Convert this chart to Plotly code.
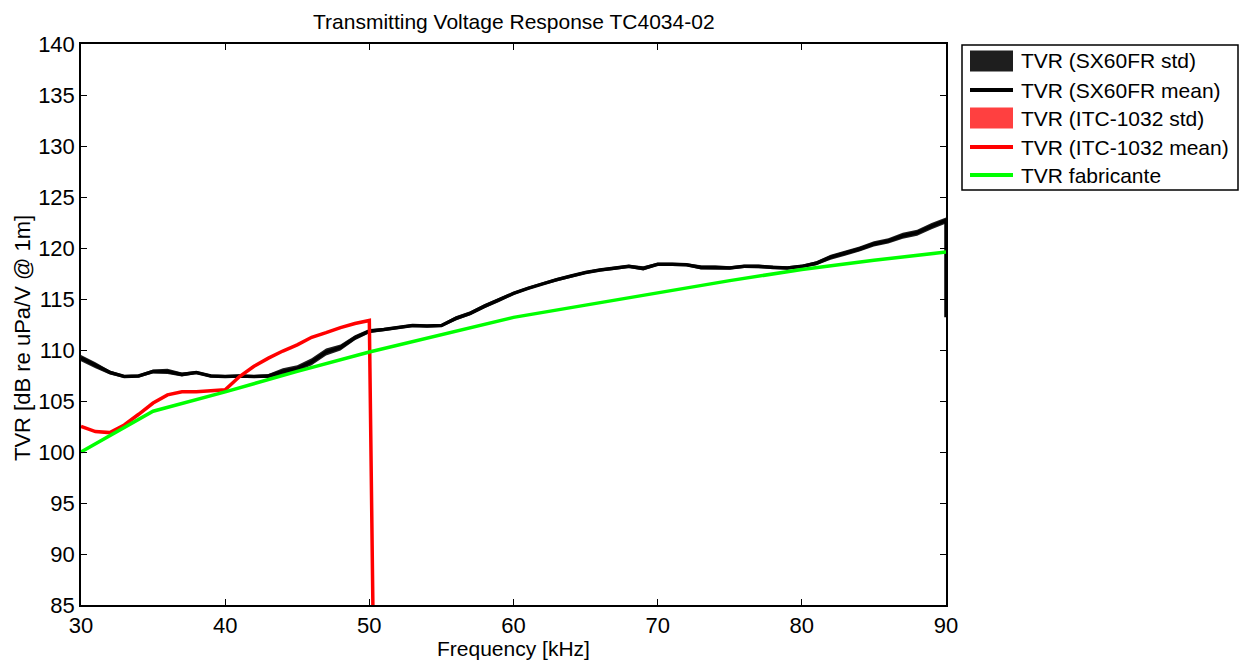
import plotly.graph_objects as go

# Frequency grids [kHz]
freq_sx = list(range(30, 91)) + [90]
freq_itc = list(range(30, 52))
freq_fab = [30, 35, 40, 45, 50, 55, 60, 65, 70, 75, 80, 85, 90]

# SX60FR measurement: mean TVR [dB re uPa/V @ 1m] and standard deviation
tvr_sx_mean = [
    109.2, 108.5, 107.8, 107.4, 107.45, 107.9, 107.9, 107.6, 107.8, 107.45,
    107.4, 107.45, 107.4, 107.45, 107.9, 108.2, 108.85, 109.8, 110.25, 111.2,
    111.85, 112.0, 112.2, 112.4, 112.35, 112.4, 113.1, 113.6, 114.3, 114.9,
    115.55, 116.05, 116.5, 116.9, 117.25, 117.6, 117.85, 118.0, 118.2, 118.0,
    118.4, 118.4, 118.35, 118.1, 118.1, 118.05, 118.2, 118.2, 118.1, 118.05,
    118.2, 118.5, 119.1, 119.5, 119.9, 120.4, 120.7, 121.2, 121.5, 122.15,
    122.7, 113.2,
]
tvr_sx_std = [
    0.3, 0.3, 0.2, 0.15, 0.15, 0.2, 0.25, 0.2, 0.15, 0.15,
    0.15, 0.15, 0.15, 0.2, 0.3, 0.3, 0.35, 0.35, 0.3, 0.25,
    0.2, 0.15, 0.15, 0.15, 0.15, 0.15, 0.2, 0.2, 0.2, 0.2,
    0.15, 0.15, 0.15, 0.15, 0.15, 0.15, 0.15, 0.15, 0.15, 0.2,
    0.15, 0.15, 0.15, 0.2, 0.2, 0.15, 0.15, 0.15, 0.15, 0.15,
    0.15, 0.2, 0.25, 0.25, 0.25, 0.25, 0.25, 0.3, 0.3, 0.3,
    0.3, 0.3,
]

# ITC-1032 reference: mean TVR and standard deviation
tvr_itc_mean = [
    102.5, 102.0, 101.9, 102.65, 103.7, 104.8, 105.6, 105.9, 105.9, 106.0,
    106.1, 107.4, 108.4, 109.2, 109.9, 110.5, 111.25, 111.7, 112.2, 112.6,
    112.9, 0.0,
]
tvr_itc_std = [0.05] * 22

# Manufacturer curve
tvr_fab = [100.0, 104.0, 105.9, 107.9, 109.8, 111.5, 113.2, 114.4, 115.6,
           116.8, 117.9, 118.8, 119.6]

# Legend entries: label, colour, kind ("patch" for std bands, "line" for means)
legend_labels = ["TVR (SX60FR std)", "TVR (SX60FR mean)", "TVR (ITC-1032 std)",
                 "TVR (ITC-1032 mean)", "TVR fabricante"]
legend_colors = ["#1e1e1e", "#000000", "#ff4040", "#ff0000", "#00ff00"]
legend_kinds = ["patch", "line", "patch", "line", "line"]

FONT = "Arial, Liberation Sans, sans-serif"
FS = 21
LW = 3.5

# Plot area in pixels
W, H = 1240, 660
L, R, T, B = 81, 946, 44, 605


def px_x(p):
    return (p - L) / (R - L)


def px_y(p):
    return (B - p) / (B - T)


def band(x, mean, std):
    upper = [m + s for m, s in zip(mean, std)]
    lower = [m - s for m, s in zip(mean, std)]
    return list(x) + list(x)[::-1], upper + lower[::-1]


fig = go.Figure()

bx, by = band(freq_sx, tvr_sx_mean, tvr_sx_std)
fig.add_trace(go.Scatter(
    x=bx, y=by, fill="toself", mode="lines", line=dict(width=0),
    fillcolor=legend_colors[0], name=legend_labels[0], hoverinfo="skip"))
fig.add_trace(go.Scatter(
    x=freq_sx, y=tvr_sx_mean, mode="lines",
    line=dict(color=legend_colors[1], width=LW), name=legend_labels[1]))

rx, ry = band(freq_itc, tvr_itc_mean, tvr_itc_std)
fig.add_trace(go.Scatter(
    x=rx, y=ry, fill="toself", mode="lines", line=dict(width=0),
    fillcolor=legend_colors[2], name=legend_labels[2], hoverinfo="skip"))
fig.add_trace(go.Scatter(
    x=freq_itc, y=tvr_itc_mean, mode="lines",
    line=dict(color=legend_colors[3], width=LW), name=legend_labels[3]))

fig.add_trace(go.Scatter(
    x=freq_fab, y=tvr_fab, mode="lines",
    line=dict(color=legend_colors[4], width=LW), name=legend_labels[4]))

axis_common = dict(
    showgrid=False, zeroline=False, showline=True, linecolor="black",
    linewidth=1.5, mirror="ticks", ticks="inside", ticklen=6,
    tickcolor="black", tickwidth=1,
    tickfont=dict(family=FONT, size=FS + 1, color="black"),
)

# Legend drawn as a boxed key to the right of the axes
shapes = [dict(type="rect", xref="paper", yref="paper",
               x0=px_x(962), x1=px_x(1238), y0=px_y(45), y1=px_y(190),
               line=dict(color="black", width=1.5), fillcolor="white",
               layer="above")]
annotations = []
row_centers = [61, 90, 118, 147, 175]
for label, color, kind, cy in zip(legend_labels, legend_colors, legend_kinds,
                                  row_centers):
    if kind == "patch":
        shapes.append(dict(type="rect", xref="paper", yref="paper",
                           x0=px_x(970), x1=px_x(1013),
                           y0=px_y(cy + 10.5), y1=px_y(cy - 10.5),
                           line=dict(width=0), fillcolor=color, layer="above"))
    else:
        shapes.append(dict(type="line", xref="paper", yref="paper",
                           x0=px_x(970), x1=px_x(1013),
                           y0=px_y(cy), y1=px_y(cy),
                           line=dict(color=color, width=4), layer="above"))
    annotations.append(dict(text=label, xref="paper", yref="paper",
                            x=px_x(1019), y=px_y(cy), xanchor="left",
                            yanchor="middle", showarrow=False,
                            font=dict(family=FONT, size=FS, color="black")))

# Title and axis labels
annotations += [
    dict(text="Transmitting Voltage Response TC4034-02", xref="paper",
         yref="paper", x=0.5, y=px_y(22), xanchor="center", yanchor="middle",
         showarrow=False, font=dict(family=FONT, size=21, color="black")),
    dict(text="Frequency [kHz]", xref="paper", yref="paper", x=0.5,
         y=px_y(648), xanchor="center", yanchor="middle", showarrow=False,
         font=dict(family=FONT, size=FS, color="black")),
    dict(text="TVR [dB re uPa/V @ 1m]", xref="paper", yref="paper",
         x=px_x(22), y=px_y(338), xanchor="center", yanchor="middle",
         textangle=-90, showarrow=False,
         font=dict(family=FONT, size=22, color="black")),
]

fig.update_layout(
    width=W, height=H,
    margin=dict(l=L, r=W - R, t=T, b=H - B),
    paper_bgcolor="white", plot_bgcolor="white",
    xaxis=dict(range=[30, 90], tickvals=[30, 40, 50, 60, 70, 80, 90],
               **axis_common),
    yaxis=dict(range=[85, 140], tickvals=list(range(85, 141, 5)),
               **axis_common),
    shapes=shapes,
    annotations=annotations,
    showlegend=False,
)

fig.write_html("out.html")
